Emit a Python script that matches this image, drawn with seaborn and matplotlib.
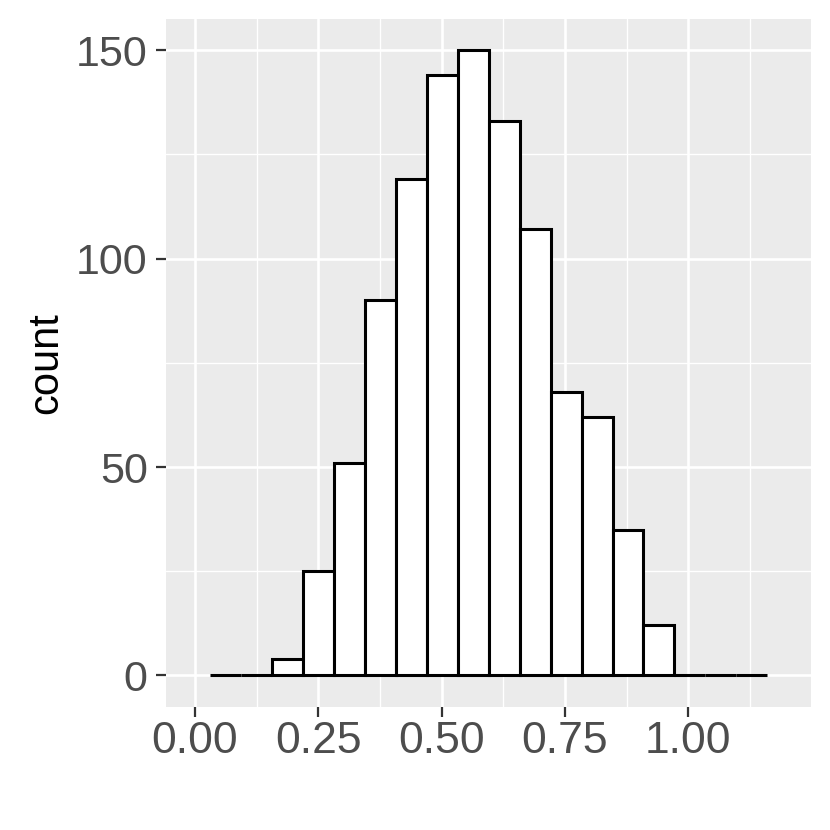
import numpy as np
import pandas as pd
import matplotlib
matplotlib.use("Agg")
import matplotlib.pyplot as plt
import seaborn as sns
from matplotlib.ticker import MultipleLocator

# ---- data ----
bin_start = 0.0304
bin_width = 0.06276
counts = [0, 0, 4, 25, 51, 90, 119, 144, 150, 133, 107, 68, 62, 35, 12, 0, 0, 0]
x_ticks = [0.00, 0.25, 0.50, 0.75, 1.00]
x_tick_labels = ["0.00", "0.25", "0.50", "0.75", "1.00"]
y_ticks = [0, 50, 100, 150]
y_tick_labels = ["0", "50", "100", "150"]

edges = bin_start + bin_width * np.arange(len(counts) + 1)
centers = (edges[:-1] + edges[1:]) / 2
df = pd.DataFrame({"x": centers, "count": counts})

sns.set_theme(style="darkgrid")
plt.rcParams["font.family"] = ["Liberation Sans", "DejaVu Sans"]

fig = plt.figure(figsize=(8.3, 8.3), dpi=100)
ax = fig.add_axes([166 / 830, 1 - 706.7 / 830, (810.7 - 166) / 830, (706.7 - 19) / 830])
ax.set_facecolor("#EBEBEB")

sns.histplot(data=df, x="x", weights="count", bins=len(counts),
             binrange=(float(edges[0]), float(edges[-1])), ax=ax,
             color="white", edgecolor="black", linewidth=2.2, alpha=1.0)
for p in ax.patches:
    if p.get_height() == 0:
        p.set_joinstyle("bevel")

ax.set_xlim(-0.0589, 1.248)
ax.set_ylim(-7.5, 157.5)
ax.set_xticks(x_ticks)
ax.set_xticklabels(x_tick_labels)
ax.set_yticks(y_ticks)
ax.set_yticklabels(y_tick_labels)
ax.xaxis.set_minor_locator(MultipleLocator(0.125))
ax.yaxis.set_minor_locator(MultipleLocator(25))

ax.grid(which="major", color="white", linewidth=1.9)
ax.grid(which="minor", color="white", linewidth=0.95)
ax.set_axisbelow(True)
for s in ax.spines.values():
    s.set_visible(False)

ax.tick_params(axis="both", which="major", length=7.2, width=1.6, color="#333333",
               labelcolor="#4D4D4D", pad=3, bottom=True, left=True)
ax.tick_params(axis="x", which="major", labelsize=32, pad=3)
ax.tick_params(axis="y", which="major", labelsize=31, pad=6)
ax.tick_params(axis="both", which="minor", length=0)

ax.set_xlabel("")
ax.set_ylabel("count", fontsize=30, color="black", labelpad=7)

fig.savefig("out.png", dpi=100)
